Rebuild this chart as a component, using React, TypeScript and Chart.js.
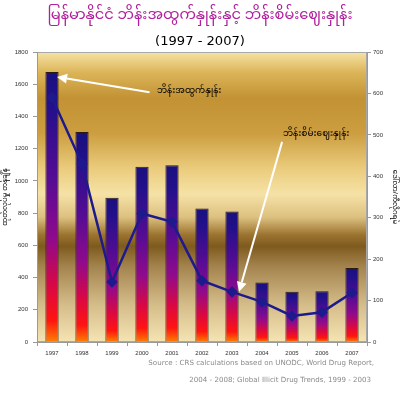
import React, { useEffect, useRef } from 'react';
import { Chart, registerables } from 'chart.js';

Chart.register(...registerables);

const years = ['1997', '1998', '1999', '2000', '2001', '2002', '2003', '2004', '2005', '2006', '2007'];
const production = [1676, 1303, 895, 1087, 1097, 828, 810, 370, 312, 315, 460];
const price = [590, 430, 145, 310, 290, 148, 121, 97, 63, 72, 119];
const leftMax = 1800;
const leftStep = 200;
const rightMax = 700;
const rightStep = 100;

const titleText = 'မြန်မာနိုင်ငံ ဘိန်းအထွက်နှုန်းနှင့် ဘိန်းစိမ်းဈေးနှုန်း';
const subtitleText = '(1997 - 2007)';
const leftAxisTitle = 'ထုတ်လုပ်မှု တန်ချိန်';
const rightAxisTitle = 'ဒေါ်လာ/ကီလိုဂရမ်';
const productionLabel = 'ဘိန်းအထွက်နှုန်း';
const priceLabel = 'ဘိန်းစိမ်းဈေးနှုန်း';
const sourceLines = [
  'Source : CRS calculations based on UNODC, World Drug Report,',
  '2004 - 2008; Global Illicit Drug Trends, 1999 - 2003',
];

const MY_FONT = "'Noto Sans Myanmar', 'Noto Sans Myanmar UI', 'Noto Serif Myanmar', 'Padauk', 'Myanmar Text', sans-serif";
const TICK_FONT = "'Liberation Sans', Arial, sans-serif";

function fitText(ctx: CanvasRenderingContext2D, text: string, family: string, weight: string, targetW: number, maxSize: number) {
  ctx.font = `${weight} 10px ${family}`;
  const w = ctx.measureText(text).width || 1;
  return Math.min(maxSize, (10 * targetW) / w);
}

function drawArrow(ctx: CanvasRenderingContext2D, x1: number, y1: number, x2: number, y2: number) {
  const ang = Math.atan2(y2 - y1, x2 - x1);
  const hl = 10;
  const hw = 5;
  const bx = x2 - hl * Math.cos(ang);
  const by = y2 - hl * Math.sin(ang);
  ctx.save();
  ctx.strokeStyle = '#ffffff';
  ctx.fillStyle = '#ffffff';
  ctx.lineWidth = 2;
  ctx.beginPath();
  ctx.moveTo(x1, y1);
  ctx.lineTo(bx, by);
  ctx.stroke();
  ctx.beginPath();
  ctx.moveTo(x2, y2);
  ctx.lineTo(bx + hw * Math.sin(ang), by - hw * Math.cos(ang));
  ctx.lineTo(bx - hw * Math.sin(ang), by + hw * Math.cos(ang));
  ctx.closePath();
  ctx.fill();
  ctx.restore();
}

const bgPlugin = {
  id: 'bgPlugin',
  beforeDraw(chart: any) {
    const { ctx, chartArea: a, width, height } = chart;
    ctx.save();
    ctx.fillStyle = '#ffffff';
    ctx.fillRect(0, 0, width, height);
    const g = ctx.createLinearGradient(0, a.top, 0, a.bottom);
    g.addColorStop(0, '#f6e3a6');
    g.addColorStop(0.07, '#dcb558');
    g.addColorStop(0.16, '#c29234');
    g.addColorStop(0.28, '#cc9e40');
    g.addColorStop(0.40, '#eacb7c');
    g.addColorStop(0.49, '#f6e2a6');
    g.addColorStop(0.57, '#dcc080');
    g.addColorStop(0.63, '#9c7430');
    g.addColorStop(0.67, '#7e5a1e');
    g.addColorStop(0.74, '#a4844e');
    g.addColorStop(0.87, '#d4bc88');
    g.addColorStop(1, '#f5e4b4');
    ctx.fillStyle = g;
    ctx.fillRect(a.left, a.top, a.right - a.left, a.bottom - a.top);
    ctx.strokeStyle = '#a8a8a8';
    ctx.lineWidth = 1;
    ctx.strokeRect(a.left + 0.5, a.top + 0.5, a.right - a.left - 1, a.bottom - a.top - 1);
    ctx.restore();
  },
};

const textPlugin = {
  id: 'textPlugin',
  afterDraw(chart: any) {
    const { ctx, width } = chart;
    const xs = chart.scales.x;
    const ys = chart.scales.y;
    const y1s = chart.scales.y1;
    ctx.save();
    // Title
    const ts = fitText(ctx, titleText, MY_FONT, 'normal', 305, 22);
    ctx.font = `normal ${ts}px ${MY_FONT}`;
    ctx.fillStyle = '#b0209c';
    ctx.textAlign = 'center';
    ctx.textBaseline = 'middle';
    ctx.fillText(titleText, width / 2, 17);
    // Subtitle
    const ss = fitText(ctx, subtitleText, "'DejaVu Sans', sans-serif", 'normal', 90, 16);
    ctx.font = `normal ${ss}px 'DejaVu Sans', sans-serif`;
    ctx.fillStyle = '#000000';
    ctx.fillText(subtitleText, width / 2, 42);
    // Source
    const srcSize = fitText(ctx, sourceLines[0], "'DejaVu Sans', sans-serif", 'normal', 226, 12);
    ctx.font = `normal ${srcSize}px 'DejaVu Sans', sans-serif`;
    ctx.fillStyle = '#8a8a8a';
    ctx.textAlign = 'right';
    ctx.fillText(sourceLines[0], 374, 363);
    ctx.fillText(sourceLines[1], 371, 380);

    // Annotations
    const t1x = xs.getPixelForValue(3.5);
    const t1y = ys.getPixelForValue(1550);
    drawArrow(ctx, xs.getPixelForValue(3.25), t1y, xs.getPixelForValue(0) + 5, ys.getPixelForValue(production[0]) + 5);
    ctx.font = `normal 9px ${MY_FONT}`;
    ctx.fillStyle = '#000000';
    ctx.textAlign = 'left';
    ctx.textBaseline = 'middle';
    ctx.fillText(productionLabel, t1x, t1y);

    const t2x = xs.getPixelForValue(7.7);
    const t2y = y1s.getPixelForValue(500);
    drawArrow(ctx, xs.getPixelForValue(7.67), y1s.getPixelForValue(483), xs.getPixelForValue(6) + 7, y1s.getPixelForValue(price[6]));
    ctx.fillText(priceLabel, t2x, t2y);
    ctx.restore();
  },
};

function barGradient(context: any) {
  const chart = context.chart;
  const { ctx, chartArea, scales } = chart;
  if (!chartArea || context.type !== 'data' || !scales.y) return '#5a1090';
  const v = context.raw as number;
  const top = scales.y.getPixelForValue(v);
  const bottom = scales.y.getPixelForValue(0);
  const g = ctx.createLinearGradient(0, top, 0, bottom);
  g.addColorStop(0, '#1a107e');
  g.addColorStop(0.12, '#22108a');
  g.addColorStop(0.4, '#560c94');
  g.addColorStop(0.62, '#900a8c');
  g.addColorStop(0.8, '#dc0840');
  g.addColorStop(0.92, '#ff1410');
  g.addColorStop(1, '#ff8000');
  return g;
}

export default function App() {
  const ref = useRef<HTMLCanvasElement | null>(null);
  useEffect(() => {
    document.body.style.margin = '0';
    const canvas = ref.current;
    if (!canvas) return;
    const chart = new Chart(canvas, {
      type: 'bar',
      data: {
        labels: years,
        datasets: [
          {
            type: 'line',
            label: priceLabel,
            data: price,
            yAxisID: 'y1',
            borderColor: '#1e1a8e',
            backgroundColor: '#1e1a8e',
            borderWidth: 2.5,
            pointStyle: 'rectRot',
            pointRadius: 4,
            pointBackgroundColor: '#1e1a8e',
            pointBorderColor: '#1e1a8e',
            tension: 0,
            order: 0,
          } as any,
          {
            type: 'bar',
            label: productionLabel,
            data: production,
            yAxisID: 'y',
            backgroundColor: barGradient,
            borderColor: '#2a1a10',
            borderWidth: 1,
            barPercentage: 0.44,
            categoryPercentage: 1,
            order: 1,
          } as any,
        ],
      },
      options: {
        responsive: false,
        animation: false,
        layout: { padding: { top: 52, left: 0, right: 0, bottom: 0 } },
        plugins: {
          legend: { display: false },
          title: { display: false },
          tooltip: { enabled: false },
        },
        scales: {
          x: {
            offset: true,
            grid: { display: true, drawOnChartArea: false, tickLength: 4, color: '#999999', offset: true },
            border: { color: '#999999' },
            ticks: { font: { family: TICK_FONT, size: 6 }, color: '#333333', padding: 4, maxRotation: 0 },
            afterFit(scale: any) { scale.height = 51; },
          },
          y: {
            position: 'left',
            min: 0,
            max: leftMax,
            grid: { display: true, drawOnChartArea: false, tickLength: 4, color: '#999999' },
            border: { color: '#999999' },
            ticks: { stepSize: leftStep, font: { family: TICK_FONT, size: 6 }, color: '#333333', padding: 5, callback: (v: any) => String(v) },
            title: { display: true, text: leftAxisTitle, font: { family: MY_FONT, size: 7 }, color: '#000000', padding: { top: 2, bottom: 0 } },
            afterFit(scale: any) { scale.width = 37; },
          },
          y1: {
            position: 'right',
            min: 0,
            max: rightMax,
            grid: { display: true, drawOnChartArea: false, tickLength: 4, color: '#999999' },
            border: { color: '#999999' },
            ticks: { stepSize: rightStep, font: { family: TICK_FONT, size: 6 }, color: '#333333', padding: 2, callback: (v: any) => String(v) },
            title: { display: true, text: rightAxisTitle, font: { family: MY_FONT, size: 7 }, color: '#000000', padding: { top: 2, bottom: 0 } },
            afterFit(scale: any) { scale.width = 33; },
          },
        },
      },
      plugins: [bgPlugin, textPlugin],
    });
    return () => chart.destroy();
  }, []);
  return (
    <div style={{ width: 400, height: 393 }}>
      <canvas ref={ref} width={400} height={393} style={{ display: 'block' }} />
    </div>
  );
}
